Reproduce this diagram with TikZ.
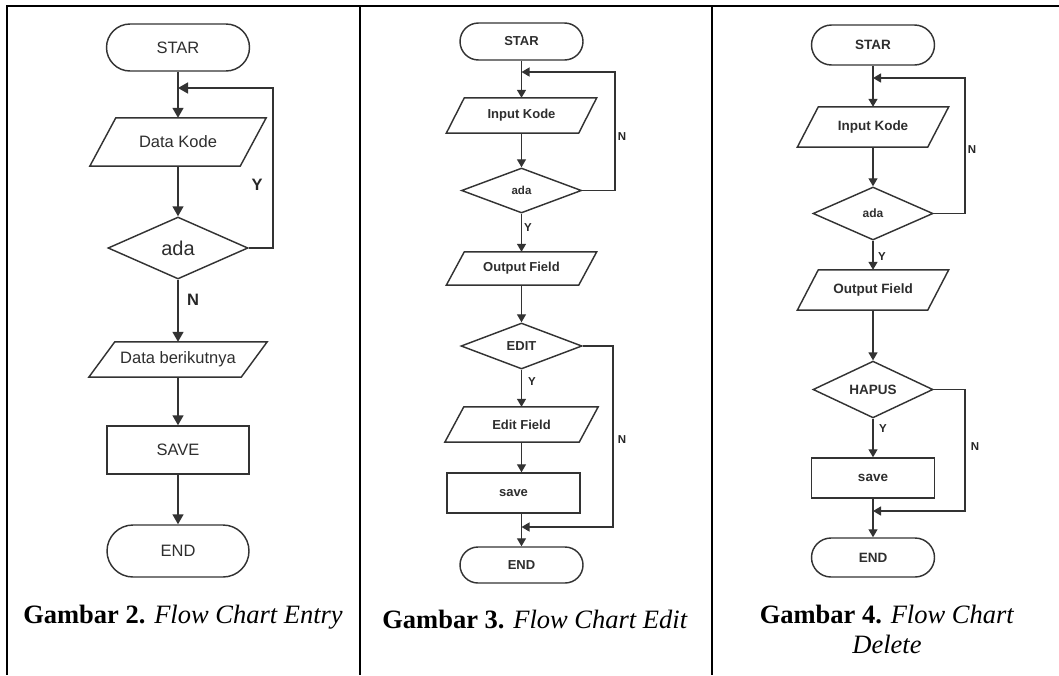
\documentclass[tikz,border=0pt]{standalone}
\usepackage{fontspec}
\setmainfont{Liberation Serif}
\newfontfamily\arialf{Liberation Sans}
\usetikzlibrary{arrows.meta,calc,shapes.geometric}
\newcommand\drawio[2]{\draw[shapeline] ($(#1.north west)+(#2,0)$) -- (#1.north east) -- ($(#1.south east)-(#2,0)$) -- (#1.south west) -- cycle;}
\begin{document}
\begin{tikzpicture}[x=1pt,y=-1pt,
  shapeline/.style={draw=black!80, line width=1.45pt},
  txta/.style={font=\arialf\fontsize{16.5}{18}\selectfont, text=black!82},
  txtb/.style={font=\arialf\bfseries\fontsize{13}{15}\selectfont, text=black!82},
  txtc/.style={font=\arialf\bfseries\fontsize{13.5}{15}\selectfont, text=black!82},
  terminal/.style={shapeline, rectangle, rounded corners=#1, inner sep=0pt},
  procbox/.style={shapeline, rectangle, inner sep=0pt},
  iobox/.style={rectangle, inner sep=0pt},
  decbox/.style={shapeline, diamond, inner sep=0pt},
  arra/.style={draw=black!80, line width=1.45pt, -{Triangle[width=11pt,length=10pt]}},
  arrb/.style={draw=black!80, line width=1.35pt, -{Triangle[width=9pt,length=8pt]}},
  laba/.style={font=\arialf\bfseries\fontsize{16.5}{18}\selectfont, text=black!85},
  labb/.style={font=\arialf\bfseries\fontsize{11.5}{13}\selectfont, text=black!85},
  capt/.style={font=\fontsize{26.5}{30}\selectfont, anchor=base, text=black},
  rule/.style={draw=black, line width=2pt}
]
\useasboundingbox (0,0) rectangle (1059,675);
% table rules
\draw[rule] (6,5.5) -- (1059,5.5);
\draw[rule] (7,5.5) -- (7,675);
\draw[rule] (360,5.5) -- (360,675);
\draw[rule] (712,5.5) -- (712,675);

% ---------- Panel 1 ----------
\node[terminal=23.5pt, txta, minimum width=143pt, minimum height=47pt] (s1) at (178,47.5) {STAR};
\coordinate (j1) at (178,88);
\coordinate (r1) at (273,88);
\node[iobox, txta, minimum width=176pt, minimum height=48pt] (dk1) at (178,142) {Data Kode};
\drawio{dk1}{26}
\node[decbox, txta, font=\arialf\fontsize{20}{22}\selectfont, minimum width=140pt, minimum height=62pt] (a1) at (178,248) {ada};
\node[iobox, txta, minimum width=178pt, minimum height=35pt] (db1) at (178,359.5) {Data berikutnya};
\drawio{db1}{26}
\node[procbox, txta, minimum width=142pt, minimum height=48pt] (sv1) at (178,450) {SAVE};
\node[terminal=26pt, txta, minimum width=142pt, minimum height=52pt] (en1) at (178,551) {END};
\draw[arra] (s1.south) -- (dk1.north);
\draw[arra] (dk1.south) -- (a1.north);
\draw[arra] (a1.east) -| (r1) -- (j1);
\draw[arra] (a1.south) -- (db1.north);
\draw[arra] (db1.south) -- (sv1.north);
\draw[arra] (sv1.south) -- (en1.north);
\node[laba] (y1) at (257,185) {Y};
\node[laba] (n1) at (193,300) {N};
\node[capt] (c1) at (183,623) {\textbf{Gambar 2.} \textit{Flow Chart Entry}};

% ---------- Panel 2 ----------
\node[terminal=18.5pt, txtb, minimum width=123pt, minimum height=37pt] (s2) at (521.5,41.5) {STAR};
\coordinate (j2) at (521.5,72);
\coordinate (r2) at (615,72);
\node[iobox, txtb, minimum width=150pt, minimum height=35pt] (ik2) at (521.5,115.5) {Input Kode};
\drawio{ik2}{18}
\node[decbox, txtb, font=\arialf\bfseries\fontsize{11.5}{13}\selectfont, minimum width=120pt, minimum height=45pt] (a2) at (521.5,190.5) {ada};
\node[iobox, txtb, minimum width=150pt, minimum height=33pt] (of2) at (521.5,268.5) {Output Field};
\drawio{of2}{18}
\node[decbox, txtb, minimum width=121pt, minimum height=46pt] (e2) at (521.5,346) {EDIT};
\node[iobox, txtb, minimum width=153pt, minimum height=35pt] (ef2) at (521.5,424.5) {Edit Field};
\drawio{ef2}{19}
\node[procbox, txtb, minimum width=133pt, minimum height=40pt] (sv2) at (513.5,493) {save};
\coordinate (j2b) at (521.5,527);
\coordinate (r2b) at (613,527);
\node[terminal=18pt, txtb, minimum width=123pt, minimum height=36pt] (en2) at (521.5,565) {END};
\draw[arrb] (s2.south) -- (ik2.north);
\draw[arrb] (ik2.south) -- (a2.north);
\draw[arrb] (a2.east) -| (r2) -- (j2);
\draw[arrb] (a2.south) -- (of2.north);
\draw[arrb] (of2.south) -- (e2.north);
\draw[arrb] (e2.south) -- (ef2.north);
\draw[arrb] (ef2.south) -- (ef2.south |- sv2.north);
\draw[arrb] (e2.east) -| (r2b) -- (j2b);
\draw[arrb] (sv2.south -| en2.north) -- (en2.north);
\node[labb] (n2a) at (622,137) {N};
\node[labb] (y2a) at (528,228) {Y};
\node[labb] (y2b) at (532,382) {Y};
\node[labb] (n2b) at (622,440) {N};
\node[capt] (c2) at (535,628) {\textbf{Gambar 3.} \textit{Flow Chart Edit}};

% ---------- Panel 3 ----------
\node[terminal=20pt, txtc, minimum width=123pt, minimum height=40pt] (s3) at (873,45) {STAR};
\coordinate (j3) at (873,78);
\coordinate (r3) at (965,78);
\node[iobox, txtc, minimum width=151pt, minimum height=40pt] (ik3) at (873,127) {Input Kode};
\drawio{ik3}{21}
\node[decbox, txtc, font=\arialf\bfseries\fontsize{12}{13}\selectfont, minimum width=120pt, minimum height=53pt] (a3) at (873,213.5) {ada};
\node[iobox, txtc, minimum width=151pt, minimum height=40pt] (of3) at (873,290) {Output Field};
\drawio{of3}{21}
\node[decbox, txtc, minimum width=120pt, minimum height=53pt] (h3) at (873,389.5) {HAPUS};
\node[procbox, txtc, minimum width=123pt, minimum height=40pt] (sv3) at (873,478) {save};
\coordinate (j3b) at (873,511);
\coordinate (r3b) at (965,511);
\node[terminal=19.5pt, txtc, minimum width=123pt, minimum height=39pt] (en3) at (873,557.5) {END};
\draw[arrb] (s3.south) -- (ik3.north);
\draw[arrb] (ik3.south) -- (a3.north);
\draw[arrb] (a3.east) -| (r3) -- (j3);
\draw[arrb] (a3.south) -- (of3.north);
\draw[arrb] (of3.south) -- (h3.north);
\draw[arrb] (h3.south) -- (sv3.north);
\draw[arrb] (h3.east) -| (r3b) -- (j3b);
\draw[arrb] (sv3.south) -- (en3.north);
\node[labb] (n3a) at (972,150) {N};
\node[labb] (y3a) at (882,257) {Y};
\node[labb] (y3b) at (883,429) {Y};
\node[labb] (n3b) at (975,447) {N};
\node[capt] (c3) at (887,623) {\textbf{Gambar 4.} \textit{Flow Chart}};
\node[capt] (c3b) at (887,653) {\textit{Delete}};
\end{tikzpicture}
\end{document}
